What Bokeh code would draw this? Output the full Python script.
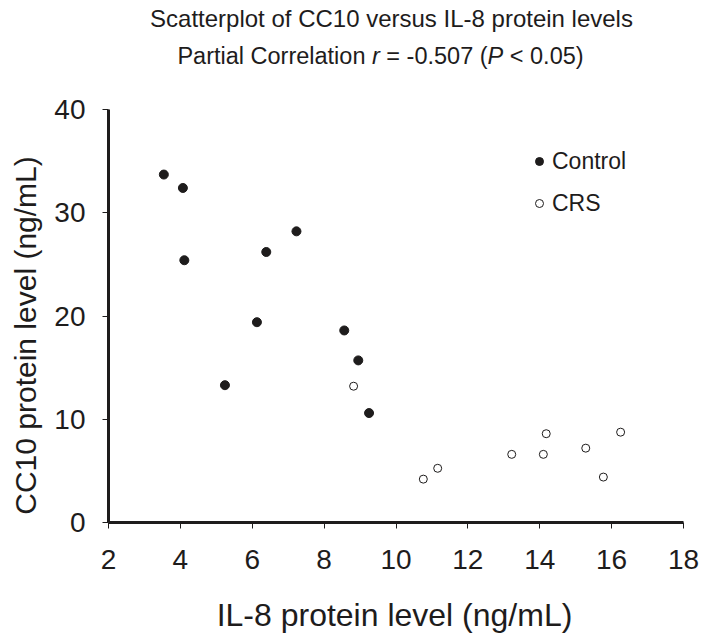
import math
from bokeh.plotting import figure
from bokeh.layouts import row, column
from bokeh.models import Label, Legend, LegendItem, FixedTicker, Range1d
from bokeh.embed import file_html
from bokeh.resources import INLINE

# ---- data ----
control_il8 = [3.54, 4.07, 4.11, 5.24, 6.13, 6.39, 7.23, 8.56, 8.95, 9.25]
control_cc10 = [33.7, 32.4, 25.4, 13.3, 19.4, 26.2, 28.2, 18.6, 15.7, 10.6]
crs_il8 = [8.82, 10.76, 11.16, 13.22, 14.10, 14.18, 15.28, 15.77, 16.25]
crs_cc10 = [13.2, 4.2, 5.25, 6.6, 6.6, 8.6, 7.2, 4.4, 8.75]
x_ticks = [2, 4, 6, 8, 10, 12, 14, 16, 18]
y_ticks = [0, 10, 20, 30, 40]
series_names = ["Control", "CRS"]
title_line1 = "Scatterplot of CC10 versus IL-8 protein levels"
title_line2 = [("Partial Correlation ", "normal"), ("r", "italic"),
               (" = -0.507 (", "normal"), ("P", "italic"), (" < 0.05)", "normal")]
x_label = "IL-8 protein level (ng/mL)"
y_label = "CC10 protein level (ng/mL)"

FONT = "Liberation Sans"
INK = "#1e1c1c"

TOTAL_W, TOTAL_H = 700, 636
LEFT_W = 45          # strip holding the y-axis title
TITLE_H = 80         # strip holding the two title lines
MAIN_H = 510
XLAB_H = TOTAL_H - TITLE_H - MAIN_H
COL_W = TOTAL_W - LEFT_W
BASE_SHIFT = 0.34    # renderer places "alphabetic" text this many em lower


def text_panel(width, height, x0, y0):
    """A blank figure (no axes) whose data coordinates equal page pixels."""
    f = figure(width=width, height=height, output_backend="svg",
               toolbar_location=None, x_axis_location=None, y_axis_location=None,
               x_range=Range1d(x0, x0 + width), y_range=Range1d(y0 + height, y0),
               min_border=0, min_border_left=0, min_border_right=0,
               min_border_top=0, min_border_bottom=0, frame_align=False)
    f.title.visible = False
    f.grid.visible = False
    f.outline_line_color = None
    f.background_fill_color = "white"
    f.border_fill_color = "white"
    return f


# ---------------- main plot ----------------
FRAME_LEFT, FRAME_RIGHT = 108.3, 682.7
FRAME_TOP, FRAME_BOTTOM = 109.0, 521.7
p = figure(width=COL_W, height=MAIN_H, x_range=(2, 18), y_range=(0, 40),
           output_backend="svg", toolbar_location=None, frame_align=False,
           min_border_left=int(round(FRAME_LEFT - LEFT_W)),
           min_border_right=int(round(TOTAL_W - FRAME_RIGHT)),
           min_border_top=int(round(FRAME_TOP - TITLE_H)),
           min_border_bottom=int(round(TITLE_H + MAIN_H - FRAME_BOTTOM)))
p.outline_line_color = None
p.grid.visible = False
p.background_fill_color = "white"
p.border_fill_color = "white"

for ax, ticks in ((p.xaxis, x_ticks), (p.yaxis, y_ticks)):
    ax.ticker = FixedTicker(ticks=ticks)
    ax.minor_tick_line_color = None
    ax.major_tick_in = 0
    ax.major_tick_out = 6
    ax.major_tick_line_color = INK
    ax.major_tick_line_width = 1
    ax.axis_line_color = INK
    ax.axis_line_width = 3
    ax.major_label_text_font = FONT
    ax.major_label_text_font_size = "28px"
    ax.major_label_text_color = INK
p.yaxis.major_label_standoff = 17
p.xaxis.major_label_standoff = 21

r_ctrl = p.scatter(control_il8, control_cc10, size=9, marker="circle",
                   fill_color=INK, line_color=INK, line_width=1)
r_crs = p.scatter(crs_il8, crs_cc10, size=8, marker="circle",
                  fill_color="white", line_color=INK, line_width=1)

legend = Legend(items=[LegendItem(label=series_names[0], renderers=[r_ctrl]),
                       LegendItem(label=series_names[1], renderers=[r_crs])],
                location=(421, 305), orientation="vertical",
                glyph_width=20, glyph_height=28, label_height=28,
                spacing=14, padding=0, margin=0, label_standoff=3,
                border_line_color=None, background_fill_alpha=0,
                label_text_font=FONT, label_text_font_size="23px",
                label_text_color=INK)
p.add_layout(legend, "center")

# ---------------- title strip ----------------
t = text_panel(COL_W, TITLE_H, LEFT_W, 0)
T1 = 24
t.add_layout(Label(x=391, y=26 - BASE_SHIFT * T1, text=title_line1,
                   text_align="center", text_baseline="alphabetic",
                   text_font=FONT, text_font_size=f"{T1}px", text_color=INK))

TS = 23.5
AW = {' ': 278, '=': 584, '-': 333, '.': 278, '(': 333, ')': 333, '<': 584,
      '0': 556, '5': 556, '7': 556, 'P': 667, 'a': 556, 'r': 333, 't': 278,
      'i': 222, 'l': 222, 'C': 722, 'o': 556, 'e': 556, 'n': 556}


def width(s):
    return sum(AW.get(c, 556) for c in s) / 1000 * TS


total = sum(width(s) for s, _ in title_line2)
start = 380 - total / 2
off = 0.0
for s, style in title_line2:
    t.add_layout(Label(x=start + off, y=63 - BASE_SHIFT * TS,
                       text=s.replace(" ", "\u00a0"),
                       text_align="left", text_baseline="alphabetic",
                       text_font=FONT, text_font_size=f"{TS}px",
                       text_font_style=style, text_color=INK))
    off += width(s)

# ---------------- x-axis title strip ----------------
XS = 32
xl = text_panel(COL_W, XLAB_H, LEFT_W, TITLE_H + MAIN_H)
xl.add_layout(Label(x=394, y=625 - BASE_SHIFT * XS, text=x_label,
                    text_align="center", text_baseline="alphabetic",
                    text_font=FONT, text_font_size=f"{XS}px", text_color=INK))

# ---------------- y-axis title strip ----------------
YS = 30
yl = text_panel(LEFT_W, TOTAL_H, 0, 0)
yl.add_layout(Label(x=35 - BASE_SHIFT * YS, y=335, text=y_label,
                    text_align="center", text_baseline="alphabetic",
                    angle=math.pi / 2, text_font=FONT,
                    text_font_size=f"{YS}px", text_color=INK))

layout = row(yl, column(t, p, xl, spacing=0), spacing=0)
open("out.html", "w").write(file_html(layout, INLINE))
